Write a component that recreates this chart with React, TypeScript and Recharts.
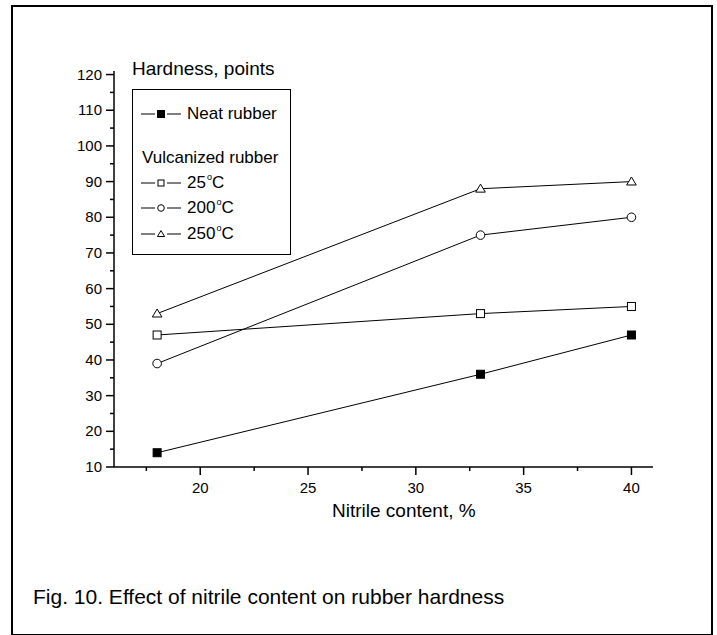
import React from 'react';
import { LineChart, Line, XAxis, YAxis, Legend } from 'recharts';

// values
const nitrile = [18, 33, 40];
const neatRubber = [14, 36, 47];
const vulc25 = [47, 53, 55];
const vulc200 = [39, 75, 80];
const vulc250 = [53, 88, 90];

const xTicks = [17.5, 20, 22.5, 25, 27.5, 30, 32.5, 35, 37.5, 40];
const yTicks = [10, 15, 20, 25, 30, 35, 40, 45, 50, 55, 60, 65, 70, 75, 80, 85, 90, 95, 100, 105, 110, 115, 120];

type Shape = 'filledSquare' | 'square' | 'circle' | 'triangle';

const series: { key: string; name: string; shape: Shape; values: number[] }[] = [
    { key: 'neat', name: 'Neat rubber', shape: 'filledSquare', values: neatRubber },
    { key: 'c25', name: '25', shape: 'square', values: vulc25 },
    { key: 'c200', name: '200', shape: 'circle', values: vulc200 },
    { key: 'c250', name: '250', shape: 'triangle', values: vulc250 },
];

const data = nitrile.map((n, i) => {
    const row: Record<string, number> = { nitrile: n };
    series.forEach(s => { row[s.key] = s.values[i]; });
    return row;
});

const FONT = '"Liberation Sans", Arial, Helvetica, sans-serif';

const Marker = ({ shape, cx, cy, r }: { shape: Shape; cx: number; cy: number; r: number }) => {
    if (shape === 'filledSquare' || shape === 'square') {
        return <rect x={cx - r} y={cy - r} width={2 * r} height={2 * r}
            fill={shape === 'filledSquare' ? '#000' : '#fff'} stroke='#000' strokeWidth={1} />;
    }
    if (shape === 'circle') {
        return <circle cx={cx} cy={cy} r={r + 0.3} fill='#fff' stroke='#000' strokeWidth={1} />;
    }
    const pts = `${cx},${cy - r * 1.15} ${cx - r * 1.2},${cy + r * 0.85} ${cx + r * 1.2},${cy + r * 0.85}`;
    return <polygon points={pts} fill='#fff' stroke='#000' strokeWidth={1} />;
};

const XTick = ({ x, y, payload }: any) => {
    const major = payload.value % 5 === 0;
    return <g>
        <line x1={x} y1={y} x2={x} y2={y + (major ? 8 : 4)} stroke='#000' strokeWidth={1.5} />
        {major && <text x={x} y={y + 26} textAnchor='middle' fontSize={15} fontFamily={FONT} fill='#000'>{payload.value}</text>}
    </g>;
};

const YTick = ({ x, y, payload }: any) => {
    const major = payload.value % 10 === 0;
    return <g>
        <line x1={x} y1={y} x2={x - (major ? 8 : 4)} y2={y} stroke='#000' strokeWidth={1.5} />
        {major && <text x={x - 12} y={y + 5} textAnchor='end' fontSize={15} fontFamily={FONT} fill='#000'>{payload.value}</text>}
    </g>;
};

const Degree = ({ t }: { t: string }) => (
    <span>{t}<span style={{ fontSize: 9, position: 'relative', top: -8, marginLeft: 1 }}>o</span>C</span>
);

const LegendSymbol = ({ shape }: { shape: Shape }) => (
    <svg width={40} height={20} style={{ display: 'block' }}>
        <line x1={0} y1={10} x2={14} y2={10} stroke='#000' strokeWidth={1} />
        <line x1={26} y1={10} x2={40} y2={10} stroke='#000' strokeWidth={1} />
        <Marker shape={shape} cx={20} cy={10} r={shape === 'filledSquare' ? 3.5 : 3} />
    </svg>
);

const renderLegend = (props: any) => {
    const payload = [...(props.payload || [])].sort((a: any, b: any) =>
        series.findIndex(s => s.key === a.dataKey) - series.findIndex(s => s.key === b.dataKey));
    const rowTops = [24, 93, 118, 144];
    return <div style={{ position: 'relative', width: 170, height: 200, fontFamily: FONT, color: '#000' }}>
        <div style={{ position: 'absolute', left: 0, top: 0, fontSize: 19, whiteSpace: 'nowrap' }}>Hardness, points</div>
        <div style={{ position: 'absolute', left: 0, top: 31, width: 159, height: 166, border: '1px solid #000', boxSizing: 'border-box' }}>
            {payload.map((entry: any, i: number) => {
                const s = series.find(v => v.key === entry.dataKey) || series[0];
                return <div key={s.key} style={{ position: 'absolute', left: 8, top: rowTops[i] - 10, height: 20, display: 'flex', alignItems: 'center', whiteSpace: 'nowrap', fontSize: 17 }}>
                    <LegendSymbol shape={s.shape} />
                    <span style={{ marginLeft: 6 }}>{s.shape === 'filledSquare' ? s.name : <Degree t={s.name} />}</span>
                </div>;
            })}
            <div style={{ position: 'absolute', left: 9, top: 58, height: 20, lineHeight: '20px', fontSize: 17, whiteSpace: 'nowrap' }}>Vulcanized rubber</div>
        </div>
    </div>;
};

const App = () => {
    return (
        <div style={{ position: 'absolute', left: 0, top: 0, width: 717, height: 635, background: '#fff', fontFamily: FONT }}>
            <div style={{ position: 'absolute', left: 11, top: 5, width: 702, height: 631, border: '2px solid #000', boxSizing: 'border-box' }} />
            <div style={{ position: 'absolute', left: 0, top: 0 }}>
                <LineChart width={717} height={635} data={data}
                    margin={{ top: 71, right: 64, left: 64, bottom: 128 }}>
                    <XAxis dataKey='nitrile' type='number' domain={[16, 41]} ticks={xTicks} interval={0}
                        height={40} tickSize={0} tickMargin={0} tickLine={false}
                        axisLine={{ stroke: '#000', strokeWidth: 1.5 }} tick={<XTick />} />
                    <YAxis type='number' domain={[10, 121]} ticks={yTicks} interval={0}
                        width={50} tickSize={0} tickMargin={0} tickLine={false}
                        axisLine={{ stroke: '#000', strokeWidth: 1.5 }} tick={<YTick />} />
                    <Legend layout='vertical' align='center' verticalAlign='middle' itemSorter={null}
                        wrapperStyle={{ left: 132, top: 58, width: 170, height: 200 }}
                        content={renderLegend} />
                    {series.map(s => (
                        <Line key={s.key} dataKey={s.key} name={s.name} type='linear'
                            stroke='#000' strokeWidth={1} isAnimationActive={false}
                            dot={(p: any) => <Marker key={`${s.key}-${p.index}`} shape={s.shape} cx={p.cx} cy={p.cy} r={4} />}
                            activeDot={false} />
                    ))}
                </LineChart>
            </div>
            <div style={{ position: 'absolute', left: 332, top: 500, fontSize: 19, whiteSpace: 'nowrap', color: '#000' }}>Nitrile content, %</div>
            <div style={{ position: 'absolute', left: 33, top: 585, fontSize: 21, whiteSpace: 'nowrap', color: '#000' }}>Fig. 10. Effect of nitrile content on rubber hardness</div>
        </div>
    );
};

export default App;
